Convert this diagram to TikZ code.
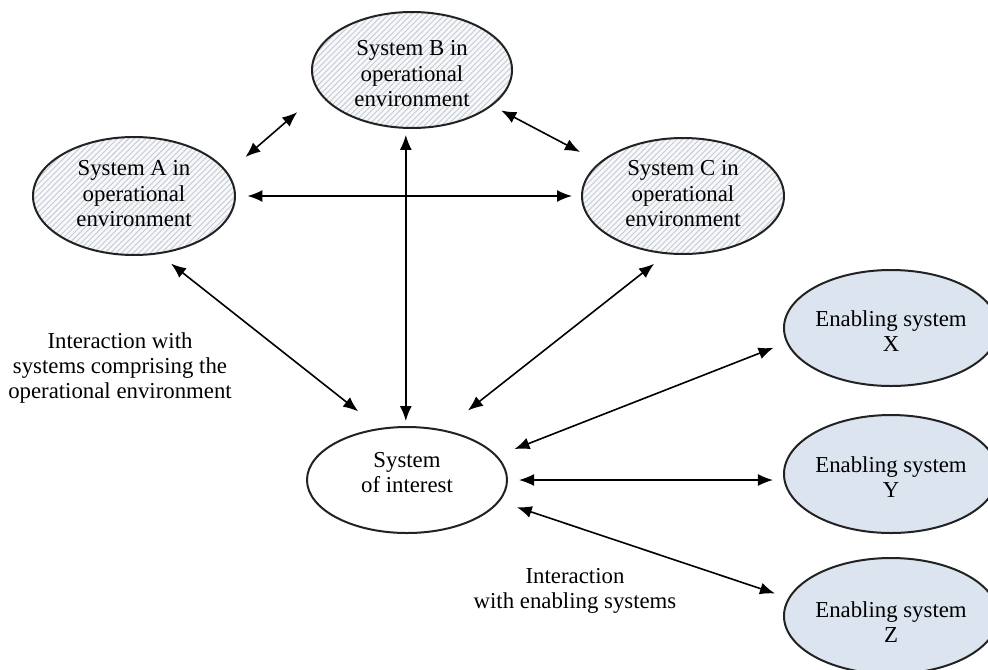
\documentclass[tikz,border=0pt]{standalone}
\usepackage{fontspec}
\setmainfont{Liberation Serif}
\usetikzlibrary{arrows.meta,patterns.meta,shapes.geometric}

\definecolor{edgegray}{RGB}{34,34,34}
\definecolor{hatchgray}{RGB}{196,201,212}
\definecolor{hatchbase}{RGB}{247,248,250}
\definecolor{enablefill}{RGB}{220,228,240}

% centred multi-line text, moved up (+) or down (-) without changing its box
\newcommand{\celltext}[2]{\raisebox{#1}[\height][\depth]{\begin{tabular}{@{}c@{}}#2\end{tabular}}}

\tikzset{
  sys/.style={ellipse, draw=edgegray, line width=1pt, inner sep=0pt,
    font=\fontsize{11.4}{12.6}\selectfont},
  envsys/.style={sys, preaction={fill=hatchbase},
    pattern={Lines[angle=45,distance=2pt,line width=0.45pt]},
    pattern color=hatchgray},
  enabsys/.style={sys, fill=enablefill},
  note/.style={align=center, font=\fontsize{11.4}{12.6}\selectfont},
  link/.style={draw=black, line width=0.8pt,
    {Latex[length=7.5pt,width=6pt]}-{Latex[length=7.5pt,width=6pt]}},
}

\begin{document}
\begin{tikzpicture}[x=0.5pt,y=-0.5pt]
\useasboundingbox (0,0) rectangle (988,669);

% operational environment systems
\node[envsys, minimum width=101pt, minimum height=59pt] (A) at (134,196)
  {\celltext{0pt}{System A in\\operational\\environment}};
\node[envsys, minimum width=100pt, minimum height=58pt] (B) at (412,70)
  {\celltext{-3pt}{System B in\\operational\\environment}};
\node[envsys, minimum width=101pt, minimum height=58pt] (C) at (683,196)
  {\celltext{0pt}{System C in\\operational\\environment}};

% system of interest
\node[sys, minimum width=100pt, minimum height=53pt] (S) at (407,480)
  {\celltext{2.5pt}{System\\of interest}};

% enabling systems
\node[enabsys, minimum width=96pt, minimum height=58pt] (X) at (891,328)
  {\celltext{-3pt}{Enabling system\\X}};
\node[enabsys, minimum width=96pt, minimum height=59pt] (Y) at (891,474)
  {\celltext{-3pt}{Enabling system\\Y}};
\node[enabsys, minimum width=96pt, minimum height=58pt] (Z) at (891,616)
  {\celltext{-4.5pt}{Enabling system\\Z}};

% annotations
\node[note] (opnote) at (120,368)
  {Interaction with\\systems comprising the\\operational environment};
\node[note] (ennote) at (575,591)
  {Interaction\\with enabling systems};

% interactions among the environment systems
\draw[link, shorten <=12pt, shorten >=14.5pt] (A.14.2) -- (B.194.2);
\draw[link, shorten <=6pt, shorten >=4.5pt] (A.east) -- (A.east -| C.west);
\draw[link, shorten <=5pt, shorten >=11pt] (B.-24) -- (C.158.7);

% interactions with the system of interest
\draw[link, shorten <=3pt, shorten >=2.5pt] (B.-96) -- (B.-96 |- S.north);
\draw[link, shorten <=8pt, shorten >=13.5pt] (A.-67.6) -- (S.118.3);
\draw[link, shorten <=7.8pt, shorten >=15.5pt] (C.254.7) -- (S.54.5);

% interactions with the enabling systems
\draw[link, shorten <=9.25pt, shorten >=6.9pt] (S.15.5) -- (X.188.7);
\draw[link, shorten <=5.5pt, shorten >=5pt] (S.east) -- (S.east -| Y.west);
\draw[link, shorten <=9pt, shorten >=7pt] (S.-13.9) -- (Z.170.4);
\end{tikzpicture}
\end{document}
